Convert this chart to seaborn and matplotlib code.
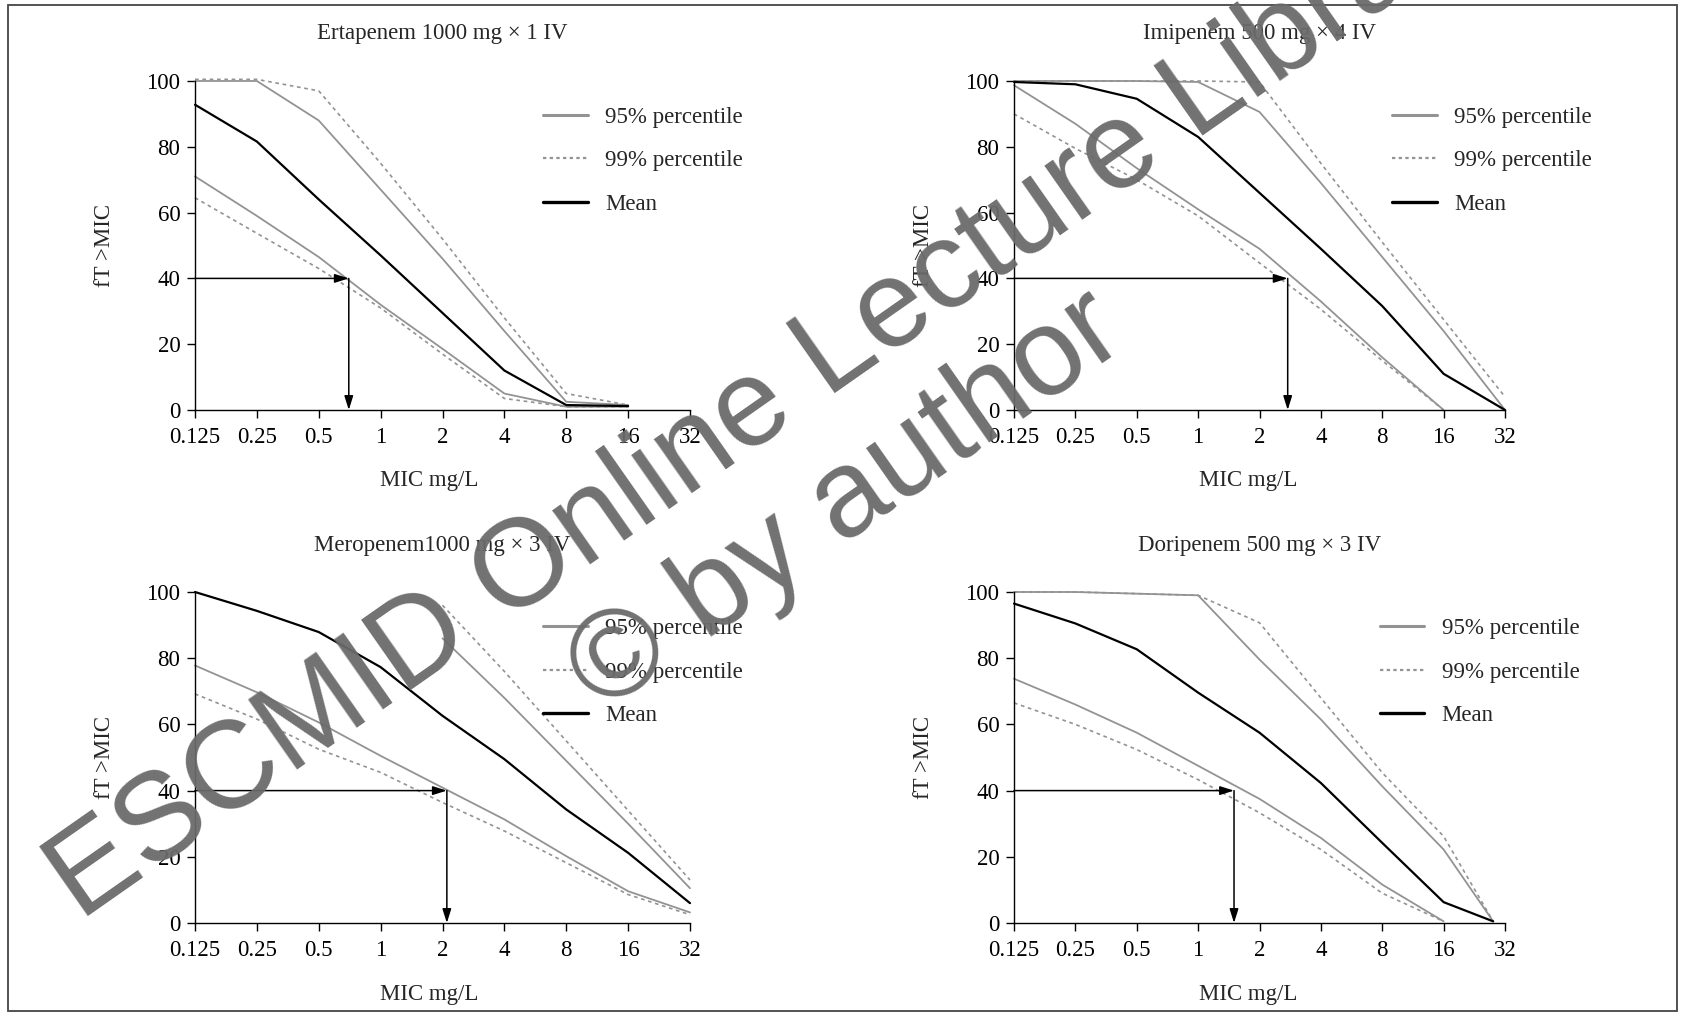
import numpy as np
import pandas as pd
import matplotlib
matplotlib.use("Agg")
import matplotlib.pyplot as plt
import seaborn as sns
from matplotlib.lines import Line2D
from matplotlib.patches import Rectangle
from matplotlib.ticker import FixedLocator, FixedFormatter, NullLocator

# ---------------- data ----------------
tick_mic = [0.125, 0.25, 0.5, 1, 2, 4, 8, 16, 32]
tick_labels = ["0.125", "0.25", "0.5", "1", "2", "4", "8", "16", "32"]
y_ticks = [0, 20, 40, 60, 80, 100]

titles = ["Ertapenem 1000 mg \u00d7 1 IV", "Imipenem 500 mg \u00d7 4 IV",
          "Meropenem1000 mg \u00d7 3 IV", "Doripenem 500 mg \u00d7 3 IV"]

nan = np.nan
# Ertapenem
ert_mic = [0.125, 0.25, 0.5, 1, 2, 4, 8, 16]
ert_up99 = [100.5, 100.5, 97, 75, 52, 28, 5, 1.5]
ert_up95 = [100, 100, 88, 67, 46, 24, 2.5, 1.5]
ert_mean = [92.8, 81.6, 64, 47, 29.5, 12, 1.5, 1.2]
ert_lo95 = [71, 59, 46.5, 32, 18.6, 5, 1, 1]
ert_lo99 = [64.5, 53.7, 43, 31, 17, 3.5, 1, 1]
ert_cut = 0.7
# Imipenem
imi_mic = [0.125, 0.25, 0.5, 1, 2, 4, 8, 16, 32]
imi_up99 = [100, 100, 100, 100, 99.7, 75, 51, 27.5, 4]
imi_up95 = [100, 100, 100, 99.7, 90.6, 69, 46.5, 24, 0]
imi_mean = [99.7, 99, 94.6, 83, 66, 49, 31.6, 11, 0]
imi_lo95 = [98.7, 87, 73.5, 61, 49, 33, 16, 0, nan]
imi_lo99 = [90, 79.5, 70, 59, 44.7, 30.6, 15, 0, nan]
imi_cut = 2.75
# Meropenem
mer_mic = [0.125, 0.25, 0.5, 1, 2, 4, 8, 16, 32]
mer_up99 = [nan, nan, nan, nan, 96, 76, 55, 34, 13]
mer_up95 = [nan, nan, nan, nan, 86, 68, 49, 30, 10.5]
mer_mean = [100, 94.3, 87.9, 77.3, 62.6, 49.5, 34.3, 21.2, 6]
mer_lo95 = [77.8, 69.7, 60.6, 50.5, 40.9, 31.3, 20.2, 9.6, 3.2]
mer_lo99 = [69.2, 61.6, 52.5, 45.5, 36.4, 27.8, 18.2, 8.6, 2.5]
mer_cut = 2.1
# Doripenem
dor_mic = [0.125, 0.25, 0.5, 1, 2, 4, 8, 16, 28]
dor_up99 = [100, 100, 99.5, 99, 90.7, 68, 45.4, 26.2, 0.5]
dor_up95 = [100, 100, 99.5, 99, 79.6, 61.5, 41.3, 22.2, 0.5]
dor_mean = [96.5, 90.5, 82.7, 69.6, 57.5, 42.3, 24.2, 6.3, 0.5]
dor_lo95 = [73.8, 66, 57.5, 47.5, 37.5, 25.7, 11.6, 0.5, nan]
dor_lo99 = [66.5, 60, 52.4, 43.3, 33.3, 22.2, 9, 0.5, nan]
dor_cut = 1.5

legend_labels = ["95% percentile", "99% percentile", "Mean"]

# ---------------- style ----------------
sns.set_theme(style="white")
plt.rcParams["font.family"] = ["Liberation Serif", "DejaVu Serif"]
plt.rcParams["axes.linewidth"] = 1.0

GRAY = "#939393"
FS = 16.5

fig = plt.figure(figsize=(16.86, 10.13), dpi=100)
fig.patch.set_facecolor("white")

W, H = 1686.0, 1013.0
# axes boxes in pixels: (left, right, top, bottom)
boxes = [(195, 690, 81, 410), (1014, 1505, 81, 410),
         (195, 690, 592, 923), (1014, 1505, 592, 923)]
legend_x = [0.703, 0.770, 0.703, 0.745]

panels = [
    (ert_mic, ert_up99, ert_up95, ert_mean, ert_lo95, ert_lo99, ert_cut),
    (imi_mic, imi_up99, imi_up95, imi_mean, imi_lo95, imi_lo99, imi_cut),
    (mer_mic, mer_up99, mer_up95, mer_mean, mer_lo95, mer_lo99, mer_cut),
    (dor_mic, dor_up99, dor_up95, dor_mean, dor_lo95, dor_lo99, dor_cut),
]

dot = (0, (2.2, 2.2))

for i, (box, pdata) in enumerate(zip(boxes, panels)):
    l, r, t, b = box
    ax = fig.add_axes([l / W, 1 - b / H, (r - l) / W, (b - t) / H])
    ax.set_facecolor("none")
    ax.set_xscale("log", base=2)
    mic, up99, up95, mean, lo95, lo99, cut = pdata
    series = [
        (up99, GRAY, dot, 1.2),
        (lo99, GRAY, dot, 1.2),
        (up95, GRAY, "-", 1.3),
        (lo95, GRAY, "-", 1.3),
        (mean, "black", "-", 1.6),
    ]
    for vals, col, ls, lw in series:
        df = pd.DataFrame({"MIC": mic, "fT": vals}).dropna()
        sns.lineplot(data=df, x="MIC", y="fT", ax=ax, color=col, linestyle=ls,
                     linewidth=lw, errorbar=None, clip_on=False)

    ax.set_xlim(0.125, 32)
    ax.set_ylim(0, 100)
    ax.xaxis.set_major_locator(FixedLocator(tick_mic))
    ax.xaxis.set_major_formatter(FixedFormatter(tick_labels))
    ax.xaxis.set_minor_locator(NullLocator())
    ax.set_yticks(y_ticks)
    ax.set_yticklabels([str(v) for v in y_ticks])
    for s in ["top", "right"]:
        ax.spines[s].set_visible(False)
    for s in ["left", "bottom"]:
        ax.spines[s].set_color("black")
        ax.spines[s].set_linewidth(1.0)
    ax.tick_params(axis="both", which="major", direction="out", length=6,
                   width=1, colors="black", labelsize=FS)
    ax.tick_params(axis="x", bottom=True, pad=6.5)
    ax.tick_params(axis="y", left=True, pad=4.5)
    ax.grid(False)

    ax.set_xlabel("MIC mg/L", fontsize=FS)
    ax.set_ylabel("fT >MIC", fontsize=FS)
    xl = 0.473 if i % 2 == 0 else 0.477
    ax.xaxis.set_label_coords(xl, -0.183)
    ax.yaxis.set_label_coords(-0.162, 0.5)
    ax.text(0.5, 1 + 47.0 / (b - t), titles[i], transform=ax.transAxes,
            ha="center", va="center", fontsize=FS)

    # arrows
    ax.annotate("", xy=(cut, 40), xytext=(0.125, 40),
                arrowprops=dict(arrowstyle="-|>,head_length=0.7,head_width=0.22",
                                color="black", lw=1.1, shrinkA=0, shrinkB=0,
                                mutation_scale=12))
    ax.annotate("", xy=(cut, 0), xytext=(cut, 40),
                arrowprops=dict(arrowstyle="-|>,head_length=0.7,head_width=0.22",
                                color="black", lw=1.1, shrinkA=0, shrinkB=0,
                                mutation_scale=12))

    handles = [Line2D([], [], color=GRAY, lw=2.2, ls="-"),
               Line2D([], [], color=GRAY, lw=1.6, ls=(0, (1.5, 1.5))),
               Line2D([], [], color="black", lw=2.4, ls="-")]
    ax.legend(handles, legend_labels, loc="upper left",
              bbox_to_anchor=(legend_x[i], 0.922), frameon=False,
              fontsize=FS, handlelength=1.95, handletextpad=0.75,
              labelspacing=0.99, borderpad=0, borderaxespad=0)

# watermark
wm_color = "#6a6a6a"
fig.text(80 / W, 1 - 922 / H, "ESCMID Online Lecture Library",
         rotation=35, rotation_mode="anchor", ha="left", va="baseline",
         fontsize=89.5, family=["Liberation Sans", "DejaVu Sans"], color=wm_color,
         alpha=0.95, zorder=10)
fig.text(602 / W, 1 - 714 / H, "\u00a9 by author",
         rotation=35, rotation_mode="anchor", ha="left", va="baseline",
         fontsize=89.5, family=["Liberation Sans", "DejaVu Sans"], color=wm_color,
         alpha=0.95, zorder=10)

# frame border
fig.patches.append(Rectangle((8 / W, 1 - 1011 / H), (1677 - 8) / W, (1011 - 5.5) / H,
                             transform=fig.transFigure, fill=False,
                             edgecolor="#444444", lw=1.3, zorder=0))

fig.savefig("out.png", dpi=100, facecolor="white")
